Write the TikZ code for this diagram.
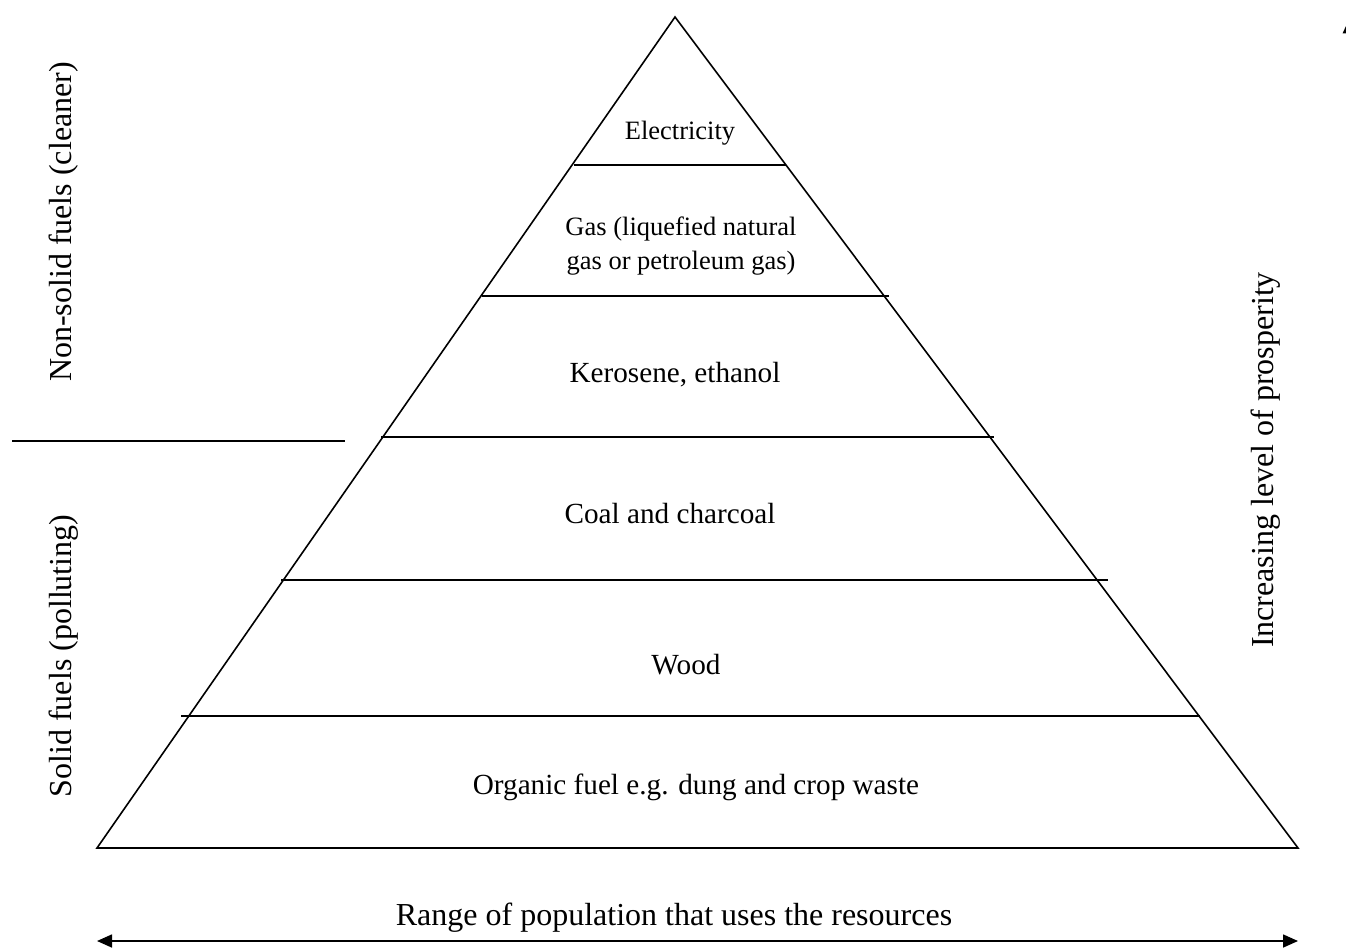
\documentclass[tikz,border=0pt]{standalone}
\usepackage{fontspec}
\setmainfont{Liberation Serif}
\usetikzlibrary{arrows.meta}
\begin{document}
\begin{tikzpicture}[x=1pt,y=-1pt,
  ln/.style={line width=1.6pt},
  big/.style={font=\fontsize{29.2}{34}\selectfont, inner sep=0pt},
  side/.style={font=\fontsize{32}{36}\selectfont, inner sep=0pt},
  small/.style={font=\fontsize{26.5}{34}\selectfont, inner sep=0pt, align=center},
  tips/.style={{Triangle[length=15pt,width=13pt]}-{Triangle[length=15pt,width=13pt]}}]
\useasboundingbox (0,0) rectangle (1346,950);
% pyramid
\coordinate (apex) at (675,17);
\coordinate (bl) at (97,848);
\coordinate (br) at (1298,848);
\draw[ln] (apex) -- (bl) -- (br) -- cycle;
% layer lines
\coordinate (l1a) at (574,165); \coordinate (l1b) at (786,165);
\coordinate (l2a) at (482,296); \coordinate (l2b) at (889,296);
\coordinate (l3a) at (381,437); \coordinate (l3b) at (994,437);
\coordinate (l4a) at (281,580); \coordinate (l4b) at (1108,580);
\coordinate (l5a) at (181,716); \coordinate (l5b) at (1200,716);
\draw[ln] (l1a) -- (l1b);
\draw[ln] (l2a) -- (l2b);
\draw[ln] (l3a) -- (l3b);
\draw[ln] (l4a) -- (l4b);
\draw[ln] (l5a) -- (l5b);
% separator
\coordinate (s1) at (12,441); \coordinate (s2) at (345,441);
\draw[ln] (s1) -- (s2);
% layer labels
\node[small] (elec) at (680,133) {Electricity};
\node[small] (gas) at (681,246) {Gas (liquefied natural\\[-0.5pt]gas or petroleum gas)};
\node[big] (kero) at (675,375) {Kerosene, ethanol};
\node[big] (coal) at (670,514) {Coal and charcoal};
\node[big] (wood) at (686,665) {Wood};
\node[big] (org) at (696,787) {Organic fuel e.g. dung and crop waste};
% side labels
\node[side, rotate=90] (nonsolid) at (64,222) {Non-solid fuels (cleaner)};
\node[side, rotate=90] (solid) at (64,656) {Solid fuels (polluting)};
\node[side, rotate=90] (prosp) at (1266,460) {Increasing level of prosperity};
% bottom arrow
\node[side] (range) at (674,918) {Range of population that uses the resources};
\coordinate (al) at (97,941); \coordinate (ar) at (1298,941);
\draw[line width=1.6pt, tips] (al) -- (ar);
% cut-off arrow tip at top right
\fill (1342.5,33.5) -- (1346,26) -- (1346,33.5) -- cycle;
\end{tikzpicture}
\end{document}
